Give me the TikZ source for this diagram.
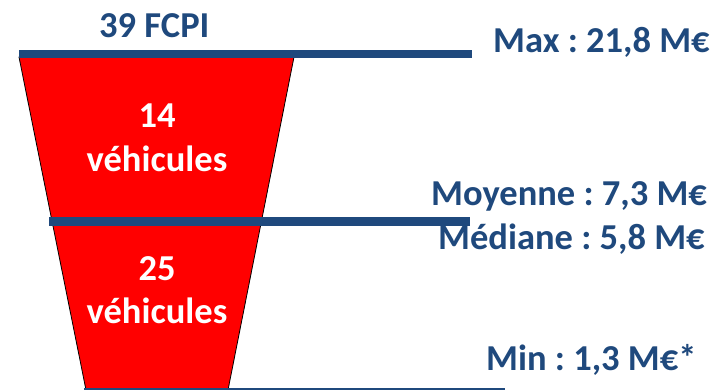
\documentclass[tikz,border=0pt]{standalone}
\usepackage{fontspec}
\setmainfont{Carlito}
\definecolor{bleu}{RGB}{31,73,125}
\frenchspacing
\begin{document}
\begin{tikzpicture}[x=1pt,y=-1pt,every node/.style={inner sep=0pt, font=\bfseries\fontsize{36.5}{40}\selectfont}]
\useasboundingbox (0,0) rectangle (717,390);
\clip (0,0) rectangle (717,390);

\fill[red,draw=black,line width=0.8pt] (19,57) -- (294,57) -- (228,390) -- (86,390) -- cycle;

\foreach \xa\xb\y\w in {19/472/54/8, 49/470/221.5/9, 84/505/392/8}{
	\draw[bleu,line width=\w pt] (\xa,\y) -- (\xb,\y);
}

\node[anchor=base west,text=bleu](titre) at(99,38) {39 FCPI};
\foreach [count=\i] \t\y in {14/128,véhicules/172,25/280,véhicules/323}{
	\node[anchor=base,text=white](v\i) at(157,\y) {\t};
}

\node[anchor=base west,text=bleu](max) at(493,53) {Max : 21,8 M€};
\node[anchor=base west,text=bleu](moy) at(431,205) {Moyenne : 7,3 M€};
\node[anchor=base west,text=bleu](med) at(438,249) {Médiane : 5,8 M€};
\node[anchor=base west,text=bleu](min) at(486,370) {Min : 1,3 M€*};

\end{tikzpicture}
\end{document}
